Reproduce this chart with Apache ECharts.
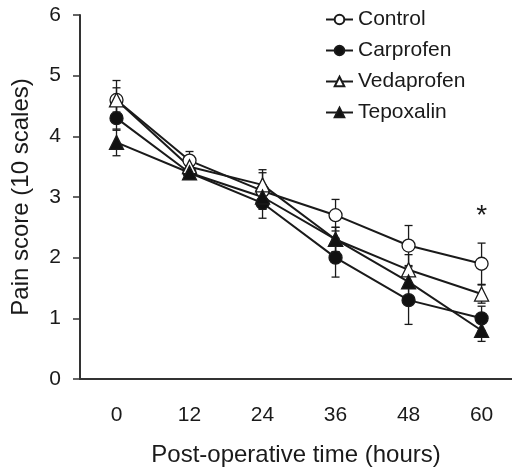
<!DOCTYPE html>
<html>
<head>
  <meta charset="utf-8">
</head>
<body style="margin: 0">
  <div id="container" style="width: 512px; height: 468px"></div>
  <script src="https://cdn.jsdelivr.net/npm/echarts@6.0.0/dist/echarts.min.js"></script>
  <script>
    // hours after surgery
    var hours = [0, 12, 24, 36, 48, 60];
    var xTicks = [0, 12, 24, 36, 48, 60];
    var yTicks = [0, 1, 2, 3, 4, 5, 6];

    var names = ['Control', 'Carprofen', 'Vedaprofen', 'Tepoxalin'];
    var control = [4.6, 3.6, 3.1, 2.7, 2.2, 1.9];
    var carprofen = [4.3, 3.4, 2.9, 2.0, 1.3, 1.0];
    var vedaprofen = [4.6, 3.5, 3.2, 2.3, 1.8, 1.4];
    var tepoxalin = [3.9, 3.4, 3.0, 2.3, 1.6, 0.8];

    // SEM
    var controlErr = [0.32, 0.15, 0.3, 0.26, 0.33, 0.34];
    var carprofenErr = [0.2, 0.1, 0.25, 0.32, 0.4, 0.2];
    var vedaprofenErr = [0.2, 0.1, 0.25, 0.2, 0.25, 0.15];
    var tepoxalinErr = [0.22, 0.1, 0.2, 0.2, 0.25, 0.18];

    // significance marker
    var star = [60, 2.68];

    var means = [control, carprofen, vedaprofen, tepoxalin];
    var errs = [controlErr, carprofenErr, vedaprofenErr, tepoxalinErr];
    var symbols = ['circle', 'circle', 'triangle', 'triangle'];
    var fills = ['#fff', '#111', '#fff', '#111'];
    var ink = '#1a1a1a';
    var font = 'Liberation Sans, Arial, sans-serif';

    var chart = echarts.init(document.getElementById('container'), null, { renderer: 'canvas' });

    var series = [];
    // error bars first so markers sit on top
    means.forEach(function (m, i) {
      var rows = hours.map(function (h, j) { return [h, m[j] - errs[i][j], m[j] + errs[i][j]]; });
      series.push({
        type: 'custom',
        name: names[i] + ' err',
        z: 1,
        silent: true,
        data: rows,
        renderItem: function (params, api) {
          var lo = api.coord([api.value(0), api.value(1)]);
          var hi = api.coord([api.value(0), api.value(2)]);
          var w = 4;
          var st = { stroke: ink, lineWidth: 1.3 };
          return {
            type: 'group',
            children: [
              { type: 'line', shape: { x1: hi[0], y1: hi[1], x2: lo[0], y2: lo[1] }, style: st },
              { type: 'line', shape: { x1: hi[0] - w, y1: hi[1], x2: hi[0] + w, y2: hi[1] }, style: st },
              { type: 'line', shape: { x1: lo[0] - w, y1: lo[1], x2: lo[0] + w, y2: lo[1] }, style: st }
            ]
          };
        }
      });
    });
    means.forEach(function (m, i) {
      series.push({
        type: 'line',
        name: names[i],
        z: 3,
        data: hours.map(function (h, j) { return [h, m[j]]; }),
        symbol: symbols[i],
        symbolSize: symbols[i] === 'circle' ? 13 : 14,
        showAllSymbol: true,
        lineStyle: { color: ink, width: 2 },
        itemStyle: { color: fills[i], borderColor: ink, borderWidth: 1.3 }
      });
    });
    series.push({
      type: 'custom',
      name: 'star',
      silent: true,
      z: 4,
      data: [star],
      renderItem: function (params, api) {
        var p = api.coord([api.value(0), api.value(1)]);
        return {
          type: 'text',
          x: p[0],
          y: p[1],
          style: { text: '*', fill: ink, fontSize: 28, fontFamily: font, align: 'center', verticalAlign: 'middle' }
        };
      }
    });

    var option = {
      animation: false,
      backgroundColor: '#fff',
      textStyle: { fontFamily: font },
      grid: { left: 80, top: 15, right: 0, bottom: 89, outerBoundsMode: 'none' },
      legend: {
        data: names,
        orient: 'vertical',
        left: 320,
        top: 4,
        itemWidth: 27,
        itemHeight: 12,
        itemGap: 10,
        textStyle: { color: ink, fontSize: 21, fontFamily: font }
      },
      xAxis: {
        type: 'value',
        min: -6,
        max: 65,
        name: 'Post-operative time (hours)',
        nameLocation: 'middle',
        nameGap: 64,
        nameTextStyle: { color: ink, fontSize: 24 },
        axisLine: { onZero: false, lineStyle: { color: '#333', width: 2 } },
        axisTick: { show: false },
        splitLine: { show: false },
        axisLabel: { customValues: xTicks, color: ink, fontSize: 21, margin: 26 }
      },
      yAxis: {
        type: 'value',
        min: 0,
        max: 6,
        interval: 1,
        name: 'Pain score (10 scales)',
        nameLocation: 'middle',
        nameGap: 47,
        nameTextStyle: { color: ink, fontSize: 24 },
        axisLine: { show: true, onZero: false, lineStyle: { color: '#333', width: 2 } },
        axisTick: { show: true, inside: false, length: 7, lineStyle: { color: '#333', width: 1.5 } },
        splitLine: { show: false },
        axisLabel: { color: ink, fontSize: 21, margin: 19, formatter: function (v) { return yTicks.indexOf(v) >= 0 ? v : ''; } }
      },
      series: series
    };

    chart.setOption(option);
    window.addEventListener('resize', chart.resize);
  </script>
</body>
</html>
